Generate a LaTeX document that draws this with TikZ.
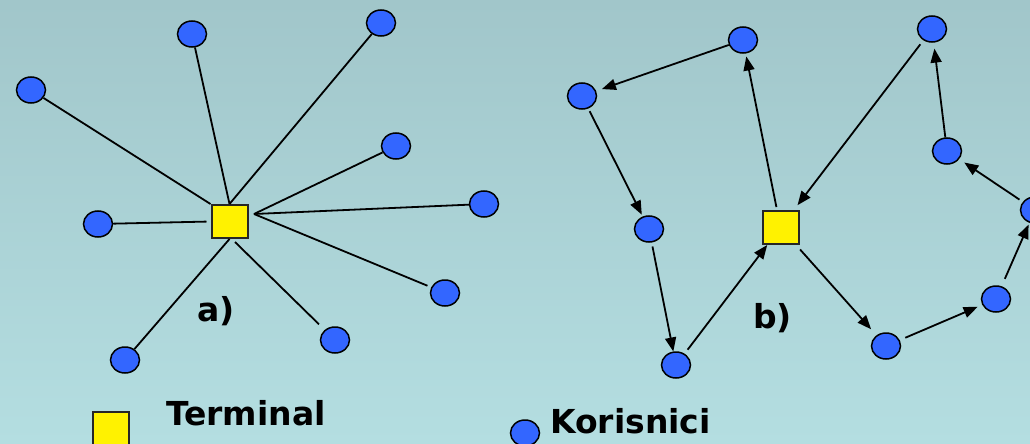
\documentclass[tikz,border=0pt]{standalone}
\usepackage{fontspec}
\setmainfont{DejaVu Sans}
\usetikzlibrary{shapes.geometric,arrows.meta}
\definecolor{bgtop}{RGB}{161,198,202}
\definecolor{bgbot}{RGB}{180,222,225}
\definecolor{userblue}{RGB}{51,102,255}
\begin{document}
\begin{tikzpicture}[x=1pt,y=-1pt,
  user/.style={ellipse,draw=black,fill=userblue,line width=1.5pt,minimum width=29pt,minimum height=26pt,inner sep=0pt},
  term/.style={rectangle,draw=black!85,fill=yellow,line width=2pt,minimum width=36pt,minimum height=33pt,inner sep=0pt},
  link/.style={line width=1.8pt},
  arr/.style={line width=1.8pt,-{Triangle[length=14pt,width=11pt]}},
  lbl/.style={font=\fontsize{33}{36}\selectfont\bfseries,inner sep=0pt,anchor=base west}]
\shade[top color=bgtop,bottom color=bgbot] (0,0) rectangle (1030,444);
\useasboundingbox (0,0) rectangle (1030,444);
% ---- a) star
\node[term] (sq) at (229.5,221.5) {};
\node[user] (n1) at (31,90) {};
\node[user] (n2) at (192,34) {};
\node[user] (n3) at (381,23) {};
\node[user] (n4) at (396,146) {};
\node[user] (n5) at (484,204) {};
\node[user] (n6) at (445,293) {};
\node[user] (n7) at (335,340) {};
\node[user] (n8) at (125,360) {};
\node[user] (n9) at (98,224) {};
\coordinate (ra) at (254,214);
\coordinate (c7) at (235,242);
\draw[link] (n1) -- (sq.north west);
\draw[link] (n2) -- (sq.north);
\draw[link] (n3) -- (sq.north);
\draw[link] (n4) -- (ra);
\draw[link] (n5) -- (ra);
\draw[link,shorten <=4pt] (n6) -- (ra);
\draw[link,shorten <=8pt] (n7) -- (c7);
\draw[link] (n8) -- (sq.south);
\draw[link,shorten >=4pt] (n9) -- (sq.west);
% ---- b) ring
\node[term] (sqb) at (780.5,227.5) {};
\node[user] (m1) at (743,40) {};
\node[user] (m2) at (582,96) {};
\node[user] (m3) at (649,229) {};
\node[user] (m4) at (676,365) {};
\node[user] (m5) at (932,29) {};
\node[user] (m6) at (947,151) {};
\node[user] (m7) at (1035,210) {};
\node[user] (m8) at (996,299) {};
\node[user] (m9) at (886,346) {};
\draw[arr,shorten >=6pt] (m1) -- (m2);
\draw[arr,shorten <=3pt,shorten >=2pt] (m2) -- (m3);
\draw[arr,shorten <=4pt] (m3) -- (m4);
\draw[arr,shorten <=5pt] (m4) -- (sqb);
\draw[arr,shorten <=3pt,shorten >=3pt] (sqb) -- (m1);
\draw[arr,shorten <=5pt,shorten >=6pt] (m5) -- (sqb);
\draw[arr,shorten <=6pt,shorten >=8pt] (sqb) -- (m9);
\draw[arr,shorten <=6pt,shorten >=5pt] (m9) -- (m8);
\draw[arr,shorten <=8pt,shorten >=2pt] (m8) -- (m7);
\draw[arr,shorten <=4pt,shorten >=6pt] (m7) -- (m6);
\draw[arr,shorten >=6pt] (m6) -- (m5);
% ---- labels and legend
\node[lbl] (la) at (197,321) {a)};
\node[lbl] (lb) at (753,328) {b)};
\node[term] (legt) at (110.5,428) {};
\node[lbl] (lt) at (166,425) {Terminal};
\node[user] (legu) at (525,433) {};
\node[lbl] (lk) at (550,433) {Korisnici};
\end{tikzpicture}
\end{document}
